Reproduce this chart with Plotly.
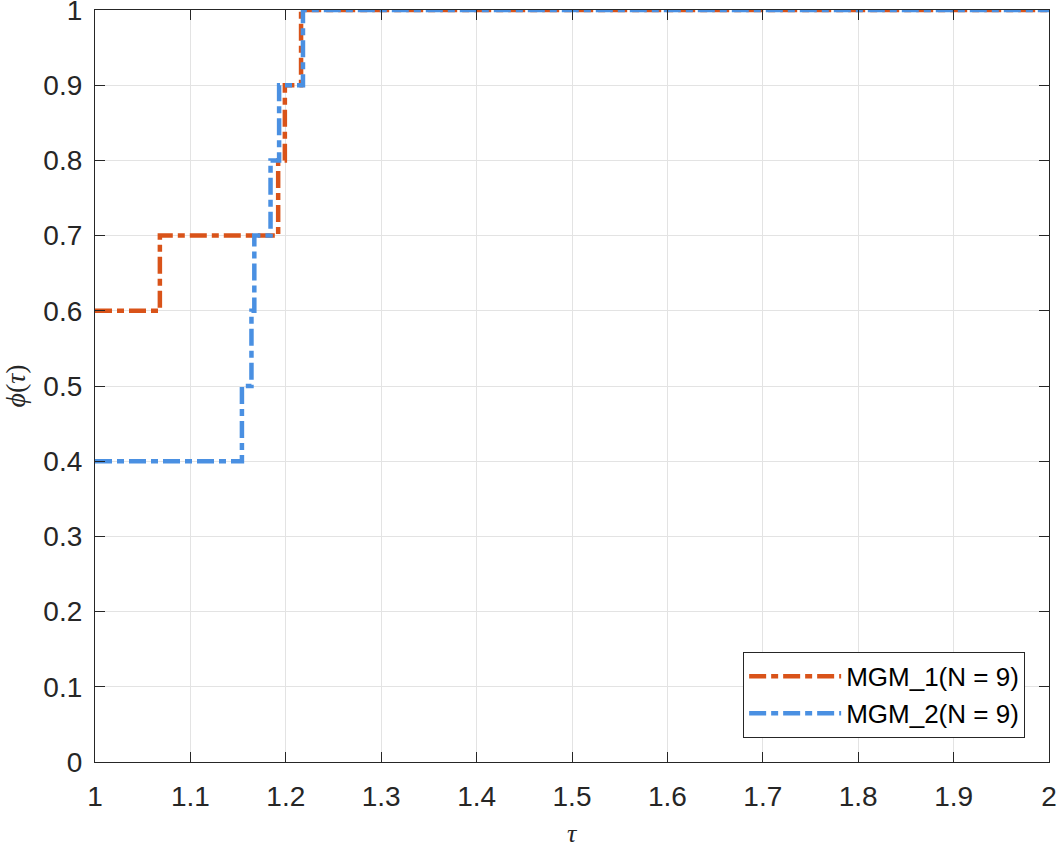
import plotly.graph_objects as go

# step points
tau_mgm1 = [1.0, 1.068, 1.192, 1.199, 1.216, 2.0]
phi_mgm1 = [0.6, 0.7, 0.8, 0.9, 1.0, 1.0]

tau_mgm2 = [1.0, 1.154, 1.164, 1.167, 1.184, 1.193, 1.218, 2.0]
phi_mgm2 = [0.4, 0.5, 0.6, 0.7, 0.8, 0.9, 1.0, 1.0]

x_ticks = [1.0, 1.1, 1.2, 1.3, 1.4, 1.5, 1.6, 1.7, 1.8, 1.9, 2.0]
x_labels = ["1", "1.1", "1.2", "1.3", "1.4", "1.5", "1.6", "1.7", "1.8", "1.9", "2"]
y_ticks = [0.0, 0.1, 0.2, 0.3, 0.4, 0.5, 0.6, 0.7, 0.8, 0.9, 1.0]
y_labels = ["0", "0.1", "0.2", "0.3", "0.4", "0.5", "0.6", "0.7", "0.8", "0.9", "1"]

series = [
    ("MGM_1(N = 9)", tau_mgm1, phi_mgm1, "#D95319"),
    ("MGM_2(N = 9)", tau_mgm2, phi_mgm2, "#4A90E2"),
]

fig = go.Figure()

for name, x, y, color in series:
    fig.add_trace(
        go.Scatter(
            x=x,
            y=y,
            mode="lines",
            name=name,
            line=dict(color=color, width=4.5, dash="17px,5px,7px,5px", shape="hv"),
            cliponaxis=False,
        )
    )

axis_style = dict(
    showline=True,
    linecolor="#262626",
    linewidth=1.2,
    mirror="ticks",
    ticks="inside",
    ticklen=10,
    tickcolor="#262626",
    showgrid=True,
    gridcolor="#E3E3E3",
    gridwidth=1,
    zeroline=False,
    automargin=False,
    ticklabeloverflow="allow",
    tickfont=dict(size=28, color="#262626"),
)

title_font = dict(family="Liberation Serif, DejaVu Serif, serif", size=28, color="#262626")

fig.update_xaxes(
    range=[1, 2],
    tickvals=x_ticks,
    ticktext=x_labels,
    ticklabelstandoff=9,
    **axis_style,
)
fig.update_yaxes(
    range=[0, 1],
    tickvals=y_ticks,
    ticktext=y_labels,
    ticklabelstandoff=6,
    title=dict(text="<i>ϕ</i>(<i>τ</i>)", font=title_font, standoff=10),
    **axis_style,
)

# x title placed by hand: the built-in one is pinned inside the bottom margin
fig.add_annotation(
    text="<i>τ</i>",
    xref="paper",
    yref="paper",
    x=0.5,
    y=-0.1157,
    xanchor="center",
    yanchor="bottom",
    showarrow=False,
    borderpad=0,
    font=dict(family="Liberation Serif, DejaVu Serif, serif", size=26, color="#262626"),
)

fig.update_layout(
    width=1057,
    height=849,
    margin=dict(l=95, r=8, t=10, b=87),
    plot_bgcolor="white",
    paper_bgcolor="white",
    font=dict(family="Liberation Sans, Arial, sans-serif", color="#262626"),
    showlegend=True,
    legend=dict(
        x=0.975,
        y=0.032,
        xanchor="right",
        yanchor="bottom",
        bgcolor="white",
        bordercolor="#262626",
        borderwidth=1,
        font=dict(size=26, color="#000000"),
        itemwidth=92,
        tracegroupgap=0,
    ),
)

# drop the page's default body margin so the figure sits at the window corner
fig.write_html(
    "out.html",
    config={"displayModeBar": False},
    post_script="document.body.style.margin = '0';",
)
